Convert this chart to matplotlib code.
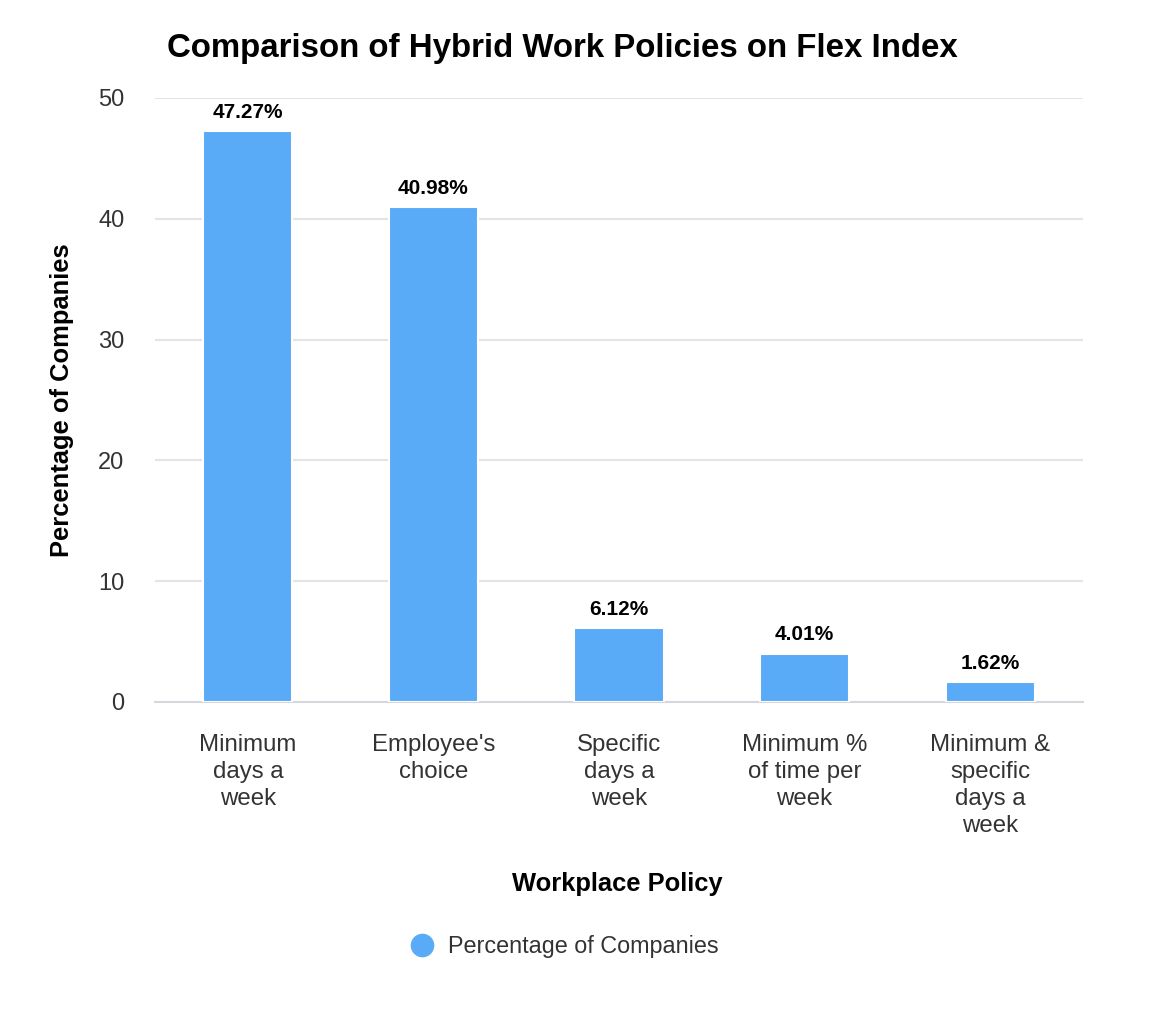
import matplotlib
matplotlib.use('Agg')
import matplotlib.pyplot as plt
from matplotlib.lines import Line2D

plt.rcParams['font.family'] = ['Liberation Sans', 'DejaVu Sans']

categories = ['Minimum\ndays a\nweek', "Employee's\nchoice", 'Specific\ndays a\nweek',
              'Minimum %\nof time per\nweek', 'Minimum &\nspecific\ndays a\nweek']
values = [47.27, 40.98, 6.12, 4.01, 1.62]
yticks = [0, 10, 20, 30, 40, 50]

bar_color = '#5aabf7'
grid_color = '#e3e3e8'

fig = plt.figure(figsize=(11.5, 10.1), dpi=100)
ax = fig.add_axes([0.1348, 0.3050, 0.8069, 0.5980])

x = list(range(len(categories)))
bars = ax.bar(x, values, width=0.48, color=bar_color, edgecolor='white', linewidth=1.5, zorder=3)
for b, v in zip(bars, values):
    ax.annotate(f'{v:.2f}%', (b.get_x() + b.get_width() / 2, v), xytext=(0, 6.5),
                textcoords='offset points', ha='center', va='bottom',
                fontsize=15, fontweight='bold', color='black')

ax.set_xlim(-0.5, len(categories) - 0.5)
ax.set_ylim(0, 50)
ax.set_yticks(yticks)
ax.set_xticks(x)
ax.set_xticklabels(categories, fontsize=17.3, color='#333333', va='top', linespacing=1.3)
ax.tick_params(axis='y', labelsize=17, labelcolor='#333333', length=0, pad=22)
ax.tick_params(axis='x', length=0, pad=23)
ax.yaxis.grid(True, color=grid_color, linewidth=1.5, zorder=0)
ax.set_axisbelow(True)
for s in ['top', 'right', 'left']:
    ax.spines[s].set_visible(False)
ax.spines['bottom'].set_color('#d6d6dc')
ax.spines['bottom'].set_linewidth(1.5)

ax.set_xlabel('Workplace Policy', fontsize=18.4, fontweight='bold', va='center')
ax.xaxis.set_label_coords(0.498, -0.301)
ax.set_ylabel('Percentage of Companies', fontsize=18.4, fontweight='bold', va='center')
ax.yaxis.set_label_coords(-0.100, 0.5)

fig.text(0.4887, 0.952, 'Comparison of Hybrid Work Policies on Flex Index',
         ha='center', va='center', fontsize=23.8, fontweight='bold')

handle = Line2D([], [], marker='o', linestyle='none', markersize=16,
                markerfacecolor=bar_color, markeredgecolor=bar_color)
fig.legend([handle], ['Percentage of Companies'], loc='center', bbox_to_anchor=(0.486, 0.063),
           frameon=False, fontsize=16.8, labelcolor='#333333', handletextpad=0.1)

fig.savefig('out.png', dpi=100, facecolor='white')
